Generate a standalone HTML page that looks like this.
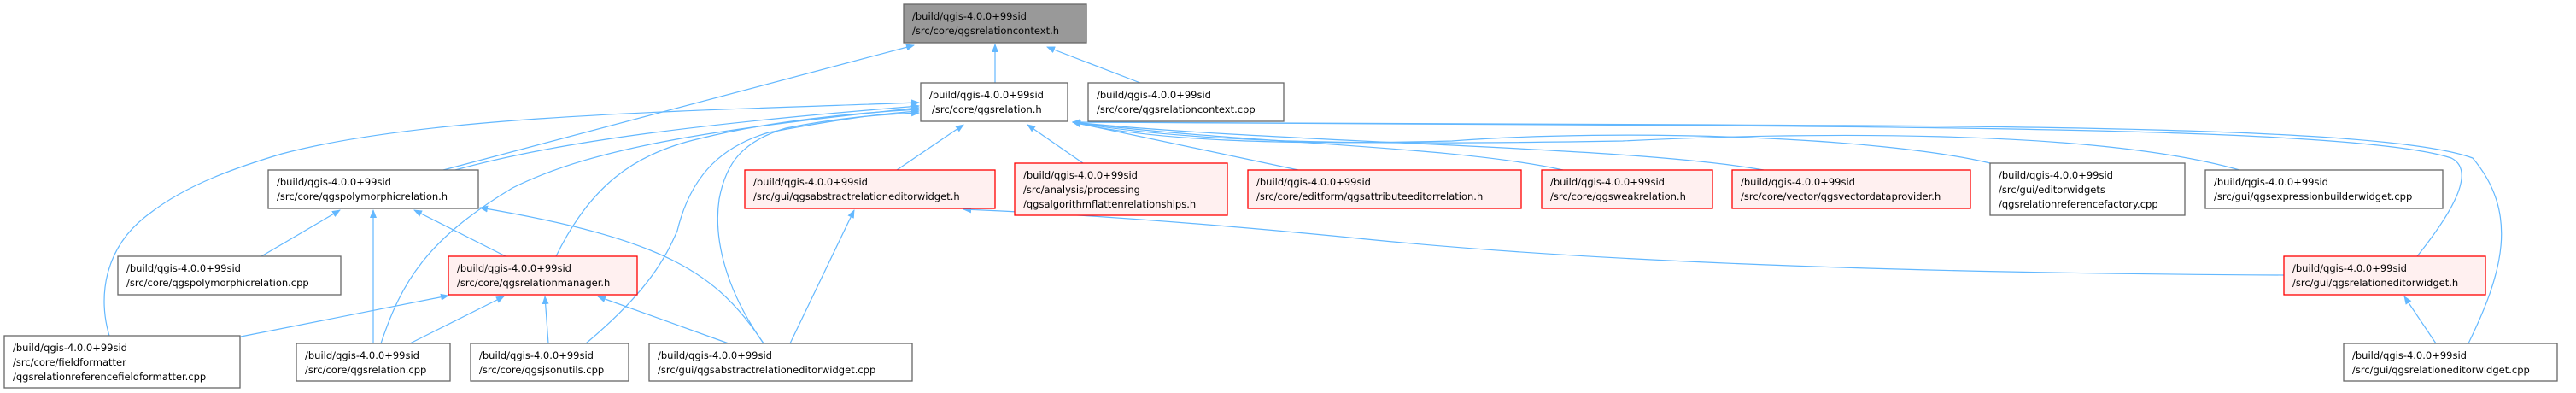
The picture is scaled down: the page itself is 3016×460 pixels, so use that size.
<!DOCTYPE html>
<html><head><meta charset="utf-8"><style>
html,body{margin:0;padding:0;background:#fff;}
svg{display:block;}
text{font-family:"DejaVu Sans","Liberation Sans",sans-serif;font-size:11.5px;fill:#000;}
.n{fill:#fff;stroke:#666;stroke-width:1.3;}
.r{fill:#fff0f0;stroke:#ff0000;stroke-width:1.3;}
.g{fill:#999;stroke:#666;stroke-width:1.3;}
.e{fill:none;stroke:#63b8ff;stroke-width:1.2;marker-end:url(#a);}
</style></head><body>
<svg width="3016" height="460" viewBox="0 0 3016 460" xmlns="http://www.w3.org/2000/svg">
<defs><marker id="a" markerWidth="10" markerHeight="8" refX="9" refY="4" orient="auto" markerUnits="userSpaceOnUse"><path d="M0,0 L10,4 L0,8 Z" fill="#63b8ff"/></marker></defs>

<!-- edges -->
<path class="e" d="M1165,97 L1165,52"/>
<path class="e" d="M1335,97 L1226,55"/>
<path class="e" d="M519,199 L1070,53"/>
<path class="e" d="M533,199 C620,175 750,150 1076,124"/>
<path class="e" d="M128,393 C115,350 120,290 175,250 C220,215 280,195 330,180 C500,135 800,130 1076,120"/>
<path class="e" d="M446,402 C470,330 500,280 600,220 C700,170 850,150 1076,126"/>
<path class="e" d="M651,300 C690,220 740,180 820,162 C900,142 1000,132 1076,128"/>
<path class="e" d="M686,402 C760,340 780,300 793,270 C810,200 850,170 900,155 C980,140 1030,133 1076,130"/>
<path class="e" d="M894,402 C850,340 835,280 842,233 C850,190 870,165 920,150 C980,138 1030,134 1076,132"/>
<path class="e" d="M1050,199 L1128,146"/>
<path class="e" d="M1268,191 L1203,146"/>
<path class="e" d="M1520,199 L1256,143"/>
<path class="e" d="M1830,199 C1700,170 1450,168 1256,143"/>
<path class="e" d="M2065,199 C1900,170 1500,168 1256,143"/>
<path class="e" d="M2330,191 C2200,160 1900,150 1700,165 C1500,170 1350,165 1256,143"/>
<path class="e" d="M2622,199 C2450,150 2100,155 1900,165 C1600,170 1400,168 1256,143"/>
<path class="e" d="M2830,300 C2870,250 2900,200 2870,185 C2780,155 2400,150 2000,147 C1700,146 1400,146 1256,143"/>
<path class="e" d="M2890,402 C2930,320 2950,250 2895,185 C2800,150 2400,148 2000,146 C1700,145 1400,144 1256,143"/>
<path class="e" d="M2674,322 C2300,320 1900,310 1600,280 C1400,260 1250,250 1128,245"/>
<path class="e" d="M306,300 L398,246"/>
<path class="e" d="M437,402 L437,246"/>
<path class="e" d="M592,300 L485,246"/>
<path class="e" d="M894,402 C840,320 780,280 562,243"/>
<path class="e" d="M282,394 L525,346"/>
<path class="e" d="M480,402 L590,347"/>
<path class="e" d="M642,402 L638,347"/>
<path class="e" d="M853,402 L700,347"/>
<path class="e" d="M925,402 L1000,246"/>
<path class="e" d="M2852,402 L2815,347"/>

<!-- nodes -->
<rect class="g" x="1058" y="5" width="214" height="45"/>
<text x="1068" y="23">/build/qgis-4.0.0+99sid</text><text x="1068" y="40">/src/core/qgsrelationcontext.h</text>

<rect class="n" x="1078" y="97" width="172" height="45"/>
<text x="1088" y="115">/build/qgis-4.0.0+99sid</text><text x="1091" y="132">/src/core/qgsrelation.h</text>

<rect class="n" x="1274" y="97" width="229" height="45"/>
<text x="1284" y="115">/build/qgis-4.0.0+99sid</text><text x="1284" y="132">/src/core/qgsrelationcontext.cpp</text>

<rect class="n" x="314" y="199" width="246" height="45"/>
<text x="324" y="217">/build/qgis-4.0.0+99sid</text><text x="324" y="234">/src/core/qgspolymorphicrelation.h</text>

<rect class="r" x="872" y="199" width="293" height="45"/>
<text x="882" y="217">/build/qgis-4.0.0+99sid</text><text x="882" y="234">/src/gui/qgsabstractrelationeditorwidget.h</text>

<rect class="r" x="1188" y="191" width="249" height="61"/>
<text x="1198" y="209">/build/qgis-4.0.0+99sid</text><text x="1198" y="226">/src/analysis/processing</text><text x="1198" y="243">/qgsalgorithmflattenrelationships.h</text>

<rect class="r" x="1461" y="199" width="320" height="45"/>
<text x="1471" y="217">/build/qgis-4.0.0+99sid</text><text x="1471" y="234">/src/core/editform/qgsattributeeditorrelation.h</text>

<rect class="r" x="1805" y="199" width="200" height="45"/>
<text x="1815" y="217">/build/qgis-4.0.0+99sid</text><text x="1815" y="234">/src/core/qgsweakrelation.h</text>

<rect class="r" x="2028" y="199" width="279" height="45"/>
<text x="2038" y="217">/build/qgis-4.0.0+99sid</text><text x="2038" y="234">/src/core/vector/qgsvectordataprovider.h</text>

<rect class="n" x="2330" y="191" width="228" height="61"/>
<text x="2340" y="209">/build/qgis-4.0.0+99sid</text><text x="2340" y="226">/src/gui/editorwidgets</text><text x="2340" y="243">/qgsrelationreferencefactory.cpp</text>

<rect class="n" x="2582" y="199" width="278" height="45"/>
<text x="2592" y="217">/build/qgis-4.0.0+99sid</text><text x="2592" y="234">/src/gui/qgsexpressionbuilderwidget.cpp</text>

<rect class="n" x="138" y="300" width="261" height="45"/>
<text x="148" y="318">/build/qgis-4.0.0+99sid</text><text x="148" y="335">/src/core/qgspolymorphicrelation.cpp</text>

<rect class="r" x="525" y="300" width="221" height="45"/>
<text x="535" y="318">/build/qgis-4.0.0+99sid</text><text x="535" y="335">/src/core/qgsrelationmanager.h</text>

<rect class="r" x="2674" y="300" width="236" height="45"/>
<text x="2684" y="318">/build/qgis-4.0.0+99sid</text><text x="2684" y="335">/src/gui/qgsrelationeditorwidget.h</text>

<rect class="n" x="5" y="393" width="276" height="61"/>
<text x="15" y="411">/build/qgis-4.0.0+99sid</text><text x="15" y="428">/src/core/fieldformatter</text><text x="15" y="445">/qgsrelationreferencefieldformatter.cpp</text>

<rect class="n" x="347" y="402" width="180" height="44"/>
<text x="357" y="420">/build/qgis-4.0.0+99sid</text><text x="357" y="437">/src/core/qgsrelation.cpp</text>

<rect class="n" x="551" y="402" width="185" height="44"/>
<text x="561" y="420">/build/qgis-4.0.0+99sid</text><text x="561" y="437">/src/core/qgsjsonutils.cpp</text>

<rect class="n" x="760" y="402" width="308" height="44"/>
<text x="770" y="420">/build/qgis-4.0.0+99sid</text><text x="770" y="437">/src/gui/qgsabstractrelationeditorwidget.cpp</text>

<rect class="n" x="2744" y="402" width="250" height="44"/>
<text x="2754" y="420">/build/qgis-4.0.0+99sid</text><text x="2754" y="437">/src/gui/qgsrelationeditorwidget.cpp</text>
</svg>
</body></html>
